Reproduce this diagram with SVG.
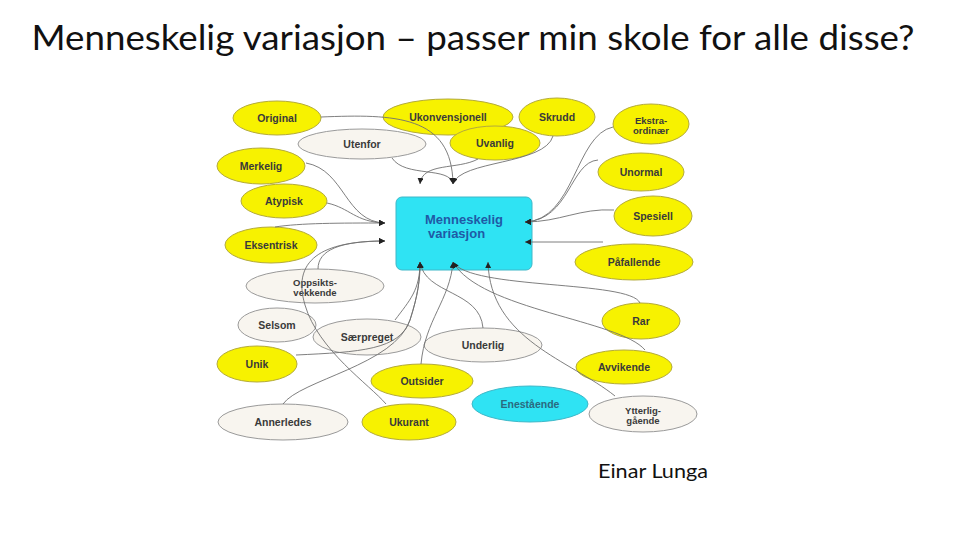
<svg xmlns="http://www.w3.org/2000/svg" width="960" height="540" viewBox="0 0 960 540">
<defs>
<marker id="ah" markerUnits="userSpaceOnUse" markerWidth="7" markerHeight="6" refX="6" refY="3" orient="auto">
<path d="M0,0 L6,3 L0,6 z" fill="#222"/>
</marker>
<style>
.y{fill:#f7f200;stroke:#b3aa3c;stroke-width:1}
.c{fill:#f8f5ef;stroke:#9a9a9a;stroke-width:1}
.b{fill:#2fe3f3;stroke:#3fb8c8;stroke-width:1}
.t{font-family:"Liberation Sans",Arial,sans-serif;font-weight:bold;font-size:10.5px;fill:#3a3a3a;text-anchor:middle}
.t2{font-family:"Liberation Sans",Arial,sans-serif;font-weight:bold;font-size:9.5px;fill:#3a3a3a;text-anchor:middle}
.bt{font-family:"Liberation Sans",Arial,sans-serif;font-weight:bold;font-size:10.5px;fill:#2a6a80;text-anchor:middle}
.cn path{fill:none;stroke:#707070;stroke-width:0.9;marker-end:url(#ah)}
</style>
</defs>
<rect width="960" height="540" fill="#ffffff"/>
<text x="473" y="50" font-family="Lato,'Open Sans','Liberation Sans',sans-serif" font-size="35" fill="#111" text-anchor="middle" textLength="883" lengthAdjust="spacingAndGlyphs">Menneskelig variasjon – passer min skole for alle disse?</text>
<text x="653" y="478" font-family="Lato,'Open Sans','Liberation Sans',sans-serif" font-size="19" fill="#111" text-anchor="middle" textLength="110" lengthAdjust="spacingAndGlyphs">Einar Lunga</text>

<g id="n-original"><ellipse class="y" cx="277" cy="118" rx="44" ry="17"/><text class="t" x="277" y="122">Original</text></g>
<g id="n-ukonvensjonell"><ellipse class="y" cx="448" cy="117" rx="65" ry="18"/><text class="t" x="448" y="121">Ukonvensjonell</text></g>
<g id="n-skrudd"><ellipse class="y" cx="557" cy="117" rx="38" ry="19"/><text class="t" x="557" y="121">Skrudd</text></g>
<g id="n-utenfor"><ellipse class="c" cx="362" cy="144" rx="64" ry="15"/><text class="t" x="362" y="148">Utenfor</text></g>
<g id="n-uvanlig"><ellipse class="y" cx="495" cy="143" rx="45" ry="17"/><text class="t" x="495" y="147">Uvanlig</text></g>
<g id="n-ekstraordinaer"><ellipse class="y" cx="651" cy="124" rx="38" ry="20"/><text class="t2" x="651" y="124"><tspan x="651">Ekstra-</tspan><tspan x="651" dy="10">ordinær</tspan></text></g>
<g id="n-merkelig"><ellipse class="y" cx="261" cy="166" rx="44" ry="18"/><text class="t" x="261" y="170">Merkelig</text></g>
<g id="n-unormal"><ellipse class="y" cx="641" cy="172" rx="43" ry="19"/><text class="t" x="641" y="176">Unormal</text></g>
<g id="n-atypisk"><ellipse class="y" cx="284" cy="201" rx="43" ry="17"/><text class="t" x="284" y="205">Atypisk</text></g>
<g id="n-spesiell"><ellipse class="y" cx="653" cy="216" rx="39" ry="20"/><text class="t" x="653" y="220">Spesiell</text></g>
<g id="n-eksentrisk"><ellipse class="y" cx="271" cy="245" rx="46" ry="18"/><text class="t" x="271" y="249">Eksentrisk</text></g>
<g id="n-pafallende"><ellipse class="y" cx="634" cy="262" rx="59" ry="18"/><text class="t" x="634" y="266">Påfallende</text></g>
<g id="n-oppsiktsvekkende"><ellipse class="c" cx="315" cy="286" rx="69" ry="17"/><text class="t2" x="315" y="286"><tspan x="315">Oppsikts-</tspan><tspan x="315" dy="10">vekkende</tspan></text></g>
<g id="n-selsom"><ellipse class="c" cx="277" cy="325" rx="39" ry="17"/><text class="t" x="277" y="329">Selsom</text></g>
<g id="n-rar"><ellipse class="y" cx="641" cy="321" rx="39" ry="18"/><text class="t" x="641" y="325">Rar</text></g>
<g id="n-saerpreget"><ellipse class="c" cx="367" cy="337" rx="54" ry="18"/><text class="t" x="367" y="341">Særpreget</text></g>
<g id="n-underlig"><ellipse class="c" cx="483" cy="345" rx="59" ry="17"/><text class="t" x="483" y="349">Underlig</text></g>
<g id="n-unik"><ellipse class="y" cx="257" cy="364" rx="40" ry="18"/><text class="t" x="257" y="368">Unik</text></g>
<g id="n-avvikende"><ellipse class="y" cx="624" cy="367" rx="48" ry="17"/><text class="t" x="624" y="371">Avvikende</text></g>
<g id="n-outsider"><ellipse class="y" cx="422" cy="381" rx="51" ry="17"/><text class="t" x="422" y="385">Outsider</text></g>
<g id="n-enestaende"><ellipse class="b" cx="530" cy="404" rx="58" ry="18"/><text class="bt" x="530" y="408">Enestående</text></g>
<g id="n-ytterliggaende"><ellipse class="c" cx="643" cy="414" rx="54" ry="18"/><text class="t2" x="643" y="414"><tspan x="643">Ytterlig-</tspan><tspan x="643" dy="10">gående</tspan></text></g>
<g id="n-annerledes"><ellipse class="c" cx="283" cy="422" rx="65" ry="18"/><text class="t" x="283" y="426">Annerledes</text></g>
<g id="n-ukurant"><ellipse class="y" cx="409" cy="422" rx="47" ry="18"/><text class="t" x="409" y="426">Ukurant</text></g>

<g id="n-center"><rect x="396" y="197" width="136" height="73" rx="6" class="b"/>
<text x="425" y="224" font-family="'Liberation Sans',Arial,sans-serif" font-weight="bold" font-size="13" fill="#1f5aa6"><tspan x="425">Menneskelig</tspan><tspan x="428" dy="14">variasjon</tspan></text></g>

<g id="connectors" class="cn">
<path d="M321,117 C395,114 452,115 453,184"/>
<path d="M392,158 C405,178 450,166 453,184"/>
<path d="M478,159 C458,170 422,162 420,184"/>
<path d="M553,136 C545,165 460,160 453,184"/>
<path d="M306,163 C345,170 345,222 385,223"/>
<path d="M327,203 C350,208 355,222 385,223"/>
<path d="M275,227 C300,223 340,223 385,223"/>
<path d="M318,269 C318,250 340,241 385,241"/>
<path d="M386,404 C370,385 318,350 305,305 C290,255 330,241 385,241"/>
<path d="M613,127 C575,135 575,220 525,222"/>
<path d="M598,160 C570,162 570,220 525,222"/>
<path d="M614,210 C580,208 560,222 525,222"/>
<path d="M603,242 L525,242"/>
<path d="M395,320 C410,300 420,290 420,262"/>
<path d="M296,355 C360,352 400,350 410,320 C418,295 420,280 420,262"/>
<path d="M283,404 C300,380 395,365 410,320 C418,295 420,280 420,262"/>
<path d="M483,328 C480,290 425,295 420,262"/>
<path d="M421,364 C425,320 450,300 453,262"/>
<path d="M640,303 C630,280 470,290 453,262"/>
<path d="M645,350 C620,320 480,310 453,262"/>
<path d="M615,396 C570,360 490,340 488,262"/>
</g>
</svg>
